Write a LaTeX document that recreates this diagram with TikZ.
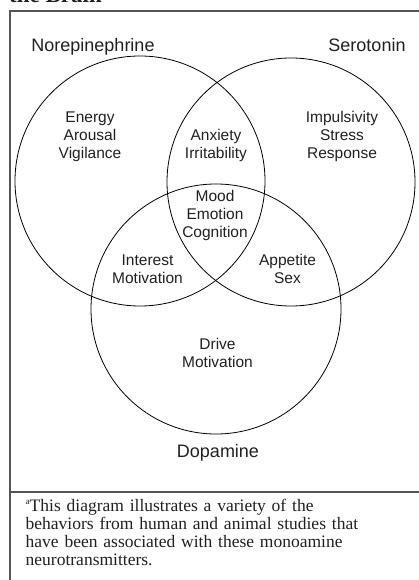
\documentclass[tikz,border=0pt]{standalone}
\usepackage{fontspec}
\setmainfont{Liberation Serif}
\setsansfont{Liberation Sans}
\definecolor{ink}{HTML}{231F20}
\definecolor{frame}{HTML}{555555}
\begin{document}
\begin{tikzpicture}[x=1pt,y=-1pt,
  circ/.style={draw=black,line width=0.8pt},
  framel/.style={draw=frame,line width=1.4pt},
  lab/.style={font=\sffamily\fontsize{18}{18}\selectfont,text=ink,anchor=base,inner sep=0pt},
  inner/.style={font=\sffamily\fontsize{15.5}{18}\selectfont,text=ink,align=center,anchor=base,inner sep=0pt},
  note/.style={font=\rmfamily\fontsize{17.5}{18.3}\selectfont,text=ink,align=left,anchor=north west,inner sep=0pt,text width=400pt}]
\useasboundingbox (0,0) rectangle (419,580);
\clip (0,0) rectangle (419,580);
% cropped title
\node[font=\rmfamily\bfseries\fontsize{23}{23}\selectfont,text=ink,anchor=base west,inner sep=0pt] (title) at (9,2.5) {the Brain};
% frame
\coordinate (tl) at (10,11);
\coordinate (tr) at (430,11);
\coordinate (bl) at (10,590);
\coordinate (dl) at (10,492);
\coordinate (dr) at (430,492);
\draw[framel] (tr) -- (tl) -- (bl);
\draw[framel] (dl) -- (dr);
% circles
\draw[circ] (140,181) circle[radius=125] coordinate (ne);
\draw[circ] (291,182) circle[radius=124] coordinate (se);
\draw[circ] (216,309) circle[radius=125] coordinate (da);
% labels
\node[lab] (nel) at (93,52) {Norepinephrine};
\node[lab] (sel) at (367,52) {Serotonin};
\node[lab] (dal) at (218,457) {Dopamine};
% regions (anchor = baseline of last line)
\node[inner] (t1) at (90,159) {Energy\\Arousal\\Vigilance};
\node[inner] (t2) at (216,159) {Anxiety\\Irritability};
\node[inner] (t3) at (342,159) {Impulsivity\\Stress\\Response};
\node[inner] (t4) at (215,237) {Mood\\Emotion\\Cognition};
\node[inner] (t5) at (147.5,283) {Interest\\Motivation};
\node[inner] (t6) at (287.5,283) {Appetite\\Sex};
\node[inner] (t7) at (217.5,367) {Drive\\Motivation};
% footnote
\node[note] (fn) at (25.5,498.5) {\textsuperscript{\fontsize{9}{9}\selectfont a}\hspace{-0.5pt}This diagram illustrates a variety of the\\behaviors from human and animal studies that\\have been associated with these monoamine\\neurotransmitters.};
\end{tikzpicture}
\end{document}
